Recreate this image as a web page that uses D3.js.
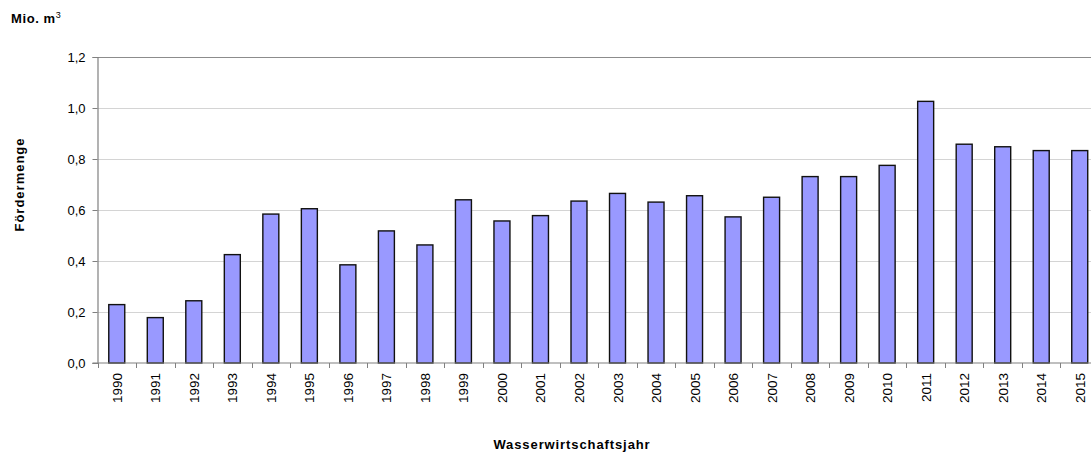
<!DOCTYPE html>
<html>
<head>
<meta charset="utf-8">
<script src="https://cdn.jsdelivr.net/npm/d3@7"></script>
<style>
  html, body { margin: 0; padding: 0; background: #fff; }
  svg { display: block; font-family: "Liberation Sans", Arial, sans-serif; }
</style>
</head>
<body>
<svg id="chart" width="1091" height="459"></svg>
<script>
const years = ["1990","1991","1992","1993","1994","1995","1996","1997","1998","1999","2000","2001","2002","2003","2004","2005","2006","2007","2008","2009","2010","2011","2012","2013","2014","2015"];
const values = [0.229,0.178,0.244,0.425,0.584,0.605,0.385,0.518,0.463,0.640,0.557,0.578,0.635,0.665,0.631,0.656,0.573,0.650,0.731,0.731,0.775,1.026,0.858,0.848,0.833,0.833];
const yTicks = [0, 0.2, 0.4, 0.6, 0.8, 1.0, 1.2];
const unitLabel = "Mio. m";
const yTitle = "Fördermenge";
const xTitle = "Wasserwirtschaftsjahr";

const svg = d3.select("#chart");
const plotLeft = 97.5, plotRight = 1099, plotTop = 57, plotBottom = 363;

const x = d3.scaleBand().domain(years).range([plotLeft, plotRight]).paddingInner(0.585).paddingOuter(0.2925);
const y = d3.scaleLinear().domain([0, 1.2]).range([plotBottom, plotTop]);
const fmt = v => d3.format(".1f")(v).replace(".", ",");

// gridlines
svg.append("g").selectAll("line").data(yTicks.filter(d => d > 0)).join("line")
  .attr("x1", plotLeft).attr("x2", 1091)
  .attr("y1", d => Math.round(y(d)) + 0.5).attr("y2", d => Math.round(y(d)) + 0.5)
  .attr("stroke", d => d === 1.2 ? "#8c8c8c" : "#d4d4d4").attr("stroke-width", 1);

// bars
svg.append("g").selectAll("rect").data(years).join("rect")
  .attr("x", d => x(d))
  .attr("y", (d, i) => y(values[i]))
  .attr("width", x.bandwidth())
  .attr("height", (d, i) => y(0) - y(values[i]))
  .attr("fill", "#9999ff")
  .attr("stroke", "#111")
  .attr("stroke-width", 1.4);

// y axis
const yAxis = svg.append("g").attr("transform", `translate(${plotLeft},0)`)
  .call(d3.axisLeft(y).tickValues(yTicks).tickFormat(fmt).tickSize(5).tickPadding(7));
yAxis.select(".domain").attr("stroke", "#808080").attr("stroke-width", 1.2);
yAxis.selectAll(".tick line").attr("stroke", "#808080");
yAxis.selectAll(".tick text").attr("font-size", 13).attr("fill", "#000")
  .attr("font-family", "Liberation Sans, Arial, sans-serif");

// x axis: baseline, boundary ticks, rotated labels
svg.append("line").attr("x1", plotLeft - 5).attr("x2", 1091)
  .attr("y1", plotBottom).attr("y2", plotBottom).attr("stroke", "#808080").attr("stroke-width", 1.2);
const idx = d3.scaleLinear().domain([0, years.length]).range([plotLeft, plotRight]);
svg.append("g").selectAll("line").data(d3.range(years.length + 1)).join("line")
  .attr("x1", d => Math.round(idx(d)) + 0.5).attr("x2", d => Math.round(idx(d)) + 0.5)
  .attr("y1", plotBottom).attr("y2", plotBottom + 5).attr("stroke", "#808080");
svg.append("g").selectAll("text").data(years).join("text")
  .attr("transform", d => `translate(${x(d) + x.bandwidth() / 2 + 5},${plotBottom + 10}) rotate(-90)`)
  .attr("text-anchor", "end")
  .attr("font-size", 13.5).attr("fill", "#000")
  .text(d => d);

// titles
const u = svg.append("text").attr("x", 11).attr("y", 23).attr("font-size", 13)
  .attr("font-weight", "bold").attr("letter-spacing", 0.6).text(unitLabel);
u.append("tspan").attr("font-size", 9).attr("font-weight", "normal").attr("dy", -5).text("3");
svg.append("text").attr("transform", "translate(23.5,184.5) rotate(-90)")
  .attr("text-anchor", "middle").attr("font-size", 13).attr("font-weight", "bold")
  .attr("letter-spacing", 1).text(yTitle);
svg.append("text").attr("x", 572).attr("y", 449).attr("text-anchor", "middle")
  .attr("font-size", 13).attr("font-weight", "bold").attr("letter-spacing", 0.9).text(xTitle);
</script>
</body>
</html>
